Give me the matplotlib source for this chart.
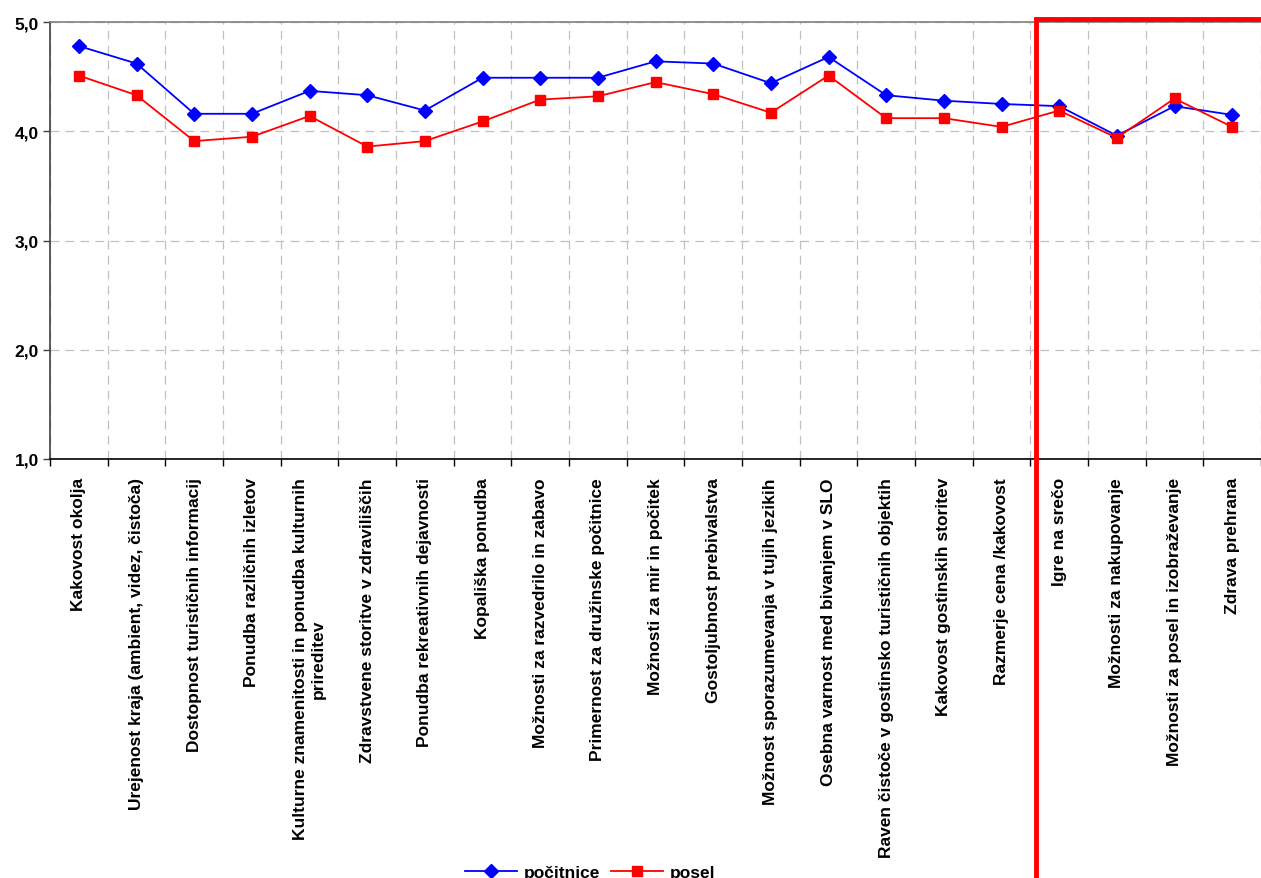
import matplotlib.pyplot as plt
import matplotlib.patches as patches
import numpy as np

plt.rcParams['font.family'] = ['Liberation Sans', 'DejaVu Sans']

CATEGORIES = [
    "Kakovost okolja",
    "Urejenost kraja (ambient, videz, čistoča)",
    "Dostopnost turističnih informacij",
    "Ponudba različnih izletov",
    "Kulturne znamenitosti in ponudba kulturnih\nprireditev",
    "Zdravstvene storitve v zdraviliščih",
    "Ponudba rekreativnih dejavnosti",
    "Kopališka ponudba",
    "Možnosti za razvedrilo in zabavo",
    "Primernost za družinske počitnice",
    "Možnosti za mir in počitek",
    "Gostoljubnost prebivalstva",
    "Možnost sporazumevanja v tujih jezikih",
    "Osebna varnost med bivanjem v SLO",
    "Raven čistoče v gostinsko turističnih objektih",
    "Kakovost gostinskih storitev",
    "Razmerje cena /kakovost",
    "Igre na srečo",
    "Možnosti za nakupovanje",
    "Možnosti za posel in izobraževanje",
    "Zdrava prehrana",
]
POCITNICE = [4.78, 4.62, 4.16, 4.16, 4.37, 4.33, 4.19, 4.49, 4.49, 4.49, 4.64,
             4.62, 4.44, 4.68, 4.33, 4.28, 4.25, 4.23, 3.96, 4.23, 4.15]
POSEL = [4.51, 4.33, 3.91, 3.95, 4.14, 3.86, 3.91, 4.09, 4.29, 4.32, 4.45,
         4.34, 4.17, 4.51, 4.12, 4.12, 4.04, 4.19, 3.94, 4.30, 4.04]
Y_TICKS = [1.0, 2.0, 3.0, 4.0, 5.0]


def main():
    fig = plt.figure(figsize=(12.61, 8.79), dpi=100)
    ax = fig.add_axes([0.0397, 0.4767, 0.9603, 0.4971])

    x = np.arange(len(CATEGORIES))
    ax.plot(x, POCITNICE, color="#0000ff", marker="D", markersize=7,
            linewidth=1.3, label="počitnice")
    ax.plot(x, POSEL, color="#ff0000", marker="s", markersize=7.5,
            linewidth=1.3, label="posel")

    ax.set_xlim(-0.5, len(CATEGORIES) - 0.5)
    ax.set_ylim(1.0, 5.0)

    # category labels at centers, ticks and grid at boundaries
    ax.set_xticks(x)
    ax.set_xticklabels(CATEGORIES, rotation=90, fontsize=12.5, fontweight="bold",
                       ha="center", va="top", multialignment="center")
    ax.tick_params(axis="x", which="major", length=0, pad=13)
    ax.set_xticks(np.arange(-0.5, len(CATEGORIES)), minor=True)
    ax.tick_params(axis="x", which="minor", length=5, width=1, color="black")

    ax.set_yticks(Y_TICKS)
    ax.set_yticklabels([f"{v:.1f}".replace(".", ",") for v in Y_TICKS],
                       fontsize=12.5, fontweight="bold")
    ax.tick_params(axis="y", length=5, width=1, color="#404040", pad=3)

    ax.grid(True, which="minor", axis="x", color="#c0c0c0", linestyle=(0, (7, 5)), linewidth=0.9)
    ax.grid(True, which="major", axis="y", color="#c0c0c0", linestyle=(0, (7, 5)), linewidth=0.9)
    ax.set_axisbelow(True)

    ax.spines["top"].set_color("#808080")
    ax.spines["left"].set_color("#404040")
    ax.spines["bottom"].set_color("black")
    ax.spines["right"].set_visible(False)
    for s in ax.spines.values():
        s.set_linewidth(1.2)

    # highlight box around the last categories
    rect = patches.Rectangle((1036 / 1261, -0.05), 0.2, 1 - 20 / 879 + 0.05,
                             transform=fig.transFigure, fill=False,
                             edgecolor="#ff0000", linewidth=3.5, clip_on=False)
    fig.patches.append(rect)

    fig.legend(loc="center", bbox_to_anchor=(0.468, 0.0065), ncol=2, frameon=False,
               prop={"weight": "bold", "size": 12.5}, handlelength=3.0,
               columnspacing=0.6, handletextpad=0.4)

    fig.savefig("out.png", dpi=100)


if __name__ == "__main__":
    main()
